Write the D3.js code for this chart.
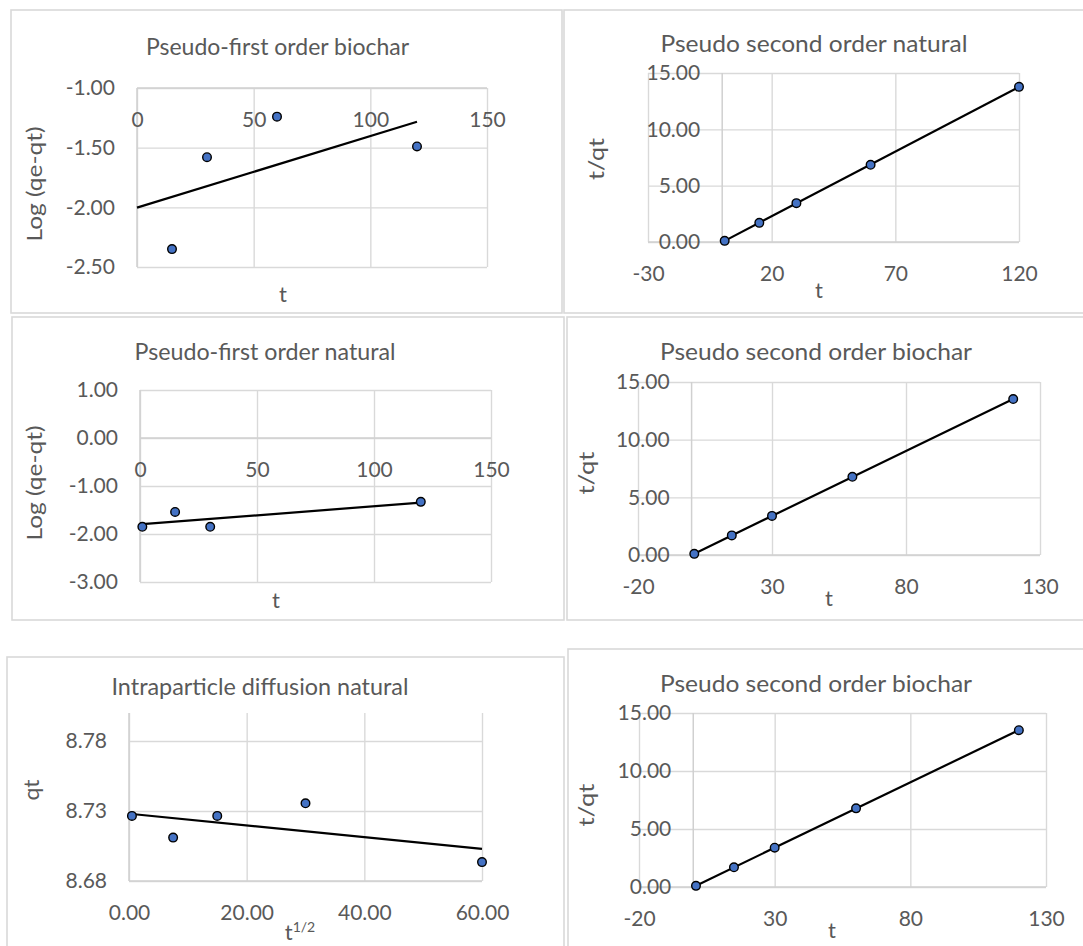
<!DOCTYPE html>
<html>
<head>
<meta charset="utf-8">
<script src="https://cdn.jsdelivr.net/npm/d3@7"></script>
<style>
body { margin: 0; background: #fff; }
svg text { font-family: Lato, "Open Sans", sans-serif; fill: #595959; }
</style>
</head>
<body>
<svg id="chart" width="1083" height="946"></svg>
<script>
// values
const tPfoBio = [15, 30, 60, 120];
const logPfoBio = [-2.35, -1.58, -1.24, -1.49];

const tPsoNat = [1, 15, 30, 60, 120];
const tqPsoNat = [0.10, 1.70, 3.45, 6.85, 13.77];

const tPfoNat = [1, 15, 30, 120];
const logPfoNat = [-1.85, -1.54, -1.85, -1.33];

const tPsoBio = [1, 15, 30, 60, 120];
const tqPsoBio = [0.10, 1.70, 3.39, 6.78, 13.52];

const tIpd = [0.5, 7.5, 15, 30, 60];
const qtIpd = [8.7265, 8.711, 8.7265, 8.7355, 8.6935];

// tick labels
const ticksT150 = [0, 50, 100, 150];
const ticksT120 = [-30, 20, 70, 120];
const ticksT130 = [-20, 30, 80, 130];
const ticksSqrt = [0, 20, 40, 60];
const ticksLogBio = [-2.5, -2, -1.5, -1];
const ticksLogNat = [-3, -2, -1, 0, 1];
const ticksTq = [0, 5, 10, 15];
const ticksQt = [8.68, 8.73, 8.78];

// x span of each linear trendline
const trendSpan = [[0, 120], [1, 120], [1, 120], [1, 120], [0.5, 60], [1, 120]];

const svg = d3.select("#chart");

const fmtInt = d => String(d);
const fmt2 = d => d.toFixed(2);

// layout of each chart box (titles are stretched in the source, so widths are given)
const panels = [
	{title: "Pseudo-first order biochar", x: tPfoBio, y: logPfoBio,
	 frame: [11, 10, 562, 313], plot: [137, 88, 487, 267],
	 xDom: [0, 150], xTicks: ticksT150, xFmt: fmtInt,
	 yDom: [-2.5, -1], yTicks: ticksLogBio, xAxisAt: -1, yAxisAt: 0,
	 titleAt: [277.5, 55, 263], yLab: "Log (qe-qt)", yLabAt: [41.5, 184, 115], xLabAt: [283, 302]},
	{title: "Pseudo second order natural", x: tPsoNat, y: tqPsoNat,
	 frame: [564, 10, 1095, 313], plot: [648, 73, 1019, 242],
	 xDom: [-30, 120], xTicks: ticksT120, xFmt: fmtInt,
	 yDom: [0, 15], yTicks: ticksTq, xAxisAt: 0, yAxisAt: 0,
	 titleAt: [814, 52, 307], yLab: "t/qt", yLabAt: [604, 159, 42], xLabAt: [819, 298]},
	{title: "Pseudo-first order natural", x: tPfoNat, y: logPfoNat,
	 frame: [12, 317, 564, 620], plot: [140, 390, 491, 582],
	 xDom: [0, 150], xTicks: ticksT150, xFmt: fmtInt,
	 yDom: [-3, 1], yTicks: ticksLogNat, xAxisAt: 0, yAxisAt: 0,
	 titleAt: [265, 360, 261], yLab: "Log (qe-qt)", yLabAt: [41.5, 483, 115], xLabAt: [276, 608]},
	{title: "Pseudo second order biochar", x: tPsoBio, y: tqPsoBio,
	 frame: [567, 317, 1095, 620], plot: [638, 382, 1040, 555],
	 xDom: [-20, 130], xTicks: ticksT130, xFmt: fmtInt,
	 yDom: [0, 15], yTicks: ticksTq, xAxisAt: 0, yAxisAt: 0,
	 titleAt: [816, 360, 312], yLab: "t/qt", yLabAt: [594, 473, 43], xLabAt: [829, 606]},
	{title: "Intraparticle diffusion natural", x: tIpd, y: qtIpd,
	 frame: [7, 657, 564, 960], plot: [129, 713, 482, 881],
	 xDom: [0, 60], xTicks: ticksSqrt, xFmt: fmt2,
	 yDom: [8.68, 8.80], yTicks: ticksQt, xAxisAt: 8.68, yAxisAt: 0,
	 titleAt: [260, 695, 297], yLab: "qt", yLabAt: [39, 790, 21], xLabAt: [300, 940], sup: true},
	{title: "Pseudo second order biochar", x: tPsoBio, y: tqPsoBio,
	 frame: [568, 649, 1095, 960], plot: [639, 713, 1046, 887],
	 xDom: [-20, 130], xTicks: ticksT130, xFmt: fmtInt,
	 yDom: [0, 15], yTicks: ticksTq, xAxisAt: 0, yAxisAt: 0,
	 titleAt: [816, 692, 312], yLab: "t/qt", yLabAt: [594, 805, 43], xLabAt: [832, 938]}
];

function fit(xs, ys) {
	const mx = d3.mean(xs), my = d3.mean(ys);
	let sxy = 0, sxx = 0;
	for (let i = 0; i < xs.length; i++) {
		sxy += (xs[i] - mx) * (ys[i] - my);
		sxx += (xs[i] - mx) * (xs[i] - mx);
	}
	const b = sxy / sxx;
	return {b: b, a: my - b * mx};
}

panels.forEach(function(p, k) {
	const g = svg.append("g");
	const [fx0, fy0, fx1, fy1] = p.frame;
	const [px0, py0, px1, py1] = p.plot;

	g.append("rect")
		.attr("x", fx0).attr("y", fy0)
		.attr("width", fx1 - fx0).attr("height", fy1 - fy0)
		.attr("fill", "#fff").attr("stroke", "#d9d9d9").attr("stroke-width", 1.6);

	const x = d3.scaleLinear().domain(p.xDom).range([px0, px1]);
	const y = d3.scaleLinear().domain(p.yDom).range([py1, py0]);

	// gridlines
	g.append("g")
		.attr("transform", `translate(0,${py1})`)
		.call(d3.axisBottom(x).tickValues(p.xTicks).tickSize(-(py1 - py0)).tickFormat(""))
		.call(s => s.select(".domain").remove())
		.call(s => s.selectAll("line").attr("stroke", "#d9d9d9").attr("stroke-width", 1.4));
	g.append("g")
		.attr("transform", `translate(${px0},0)`)
		.call(d3.axisLeft(y).tickValues(p.yTicks).tickSize(-(px1 - px0)).tickFormat(""))
		.call(s => s.select(".domain").remove())
		.call(s => s.selectAll("line").attr("stroke", "#d9d9d9").attr("stroke-width", 1.4));

	// axis lines
	g.append("line")
		.attr("x1", px0).attr("x2", px1)
		.attr("y1", y(p.xAxisAt)).attr("y2", y(p.xAxisAt))
		.attr("stroke", "#d0d0d0").attr("stroke-width", 1.5);
	g.append("line")
		.attr("x1", x(p.yAxisAt)).attr("x2", x(p.yAxisAt))
		.attr("y1", py0).attr("y2", py1)
		.attr("stroke", "#d0d0d0").attr("stroke-width", 1.5);

	// tick labels
	g.append("g")
		.attr("transform", `translate(0,${y(p.xAxisAt)})`)
		.call(d3.axisBottom(x).tickValues(p.xTicks).tickFormat(p.xFmt).tickSize(0).tickPadding(24))
		.call(s => s.select(".domain").remove())
		.call(s => s.selectAll("text").attr("font-size", 21).attr("font-family", null).attr("fill", null));
	g.append("g")
		.attr("transform", `translate(${x(p.yAxisAt)},0)`)
		.call(d3.axisLeft(y).tickValues(p.yTicks).tickFormat(fmt2).tickSize(0).tickPadding(22))
		.call(s => s.select(".domain").remove())
		.call(s => s.selectAll("text").attr("font-size", 21).attr("font-family", null).attr("fill", null));

	// trendline
	const f = fit(p.x, p.y);
	const span = trendSpan[k];
	g.append("line")
		.attr("x1", x(span[0])).attr("y1", y(f.a + f.b * span[0]))
		.attr("x2", x(span[1])).attr("y2", y(f.a + f.b * span[1]))
		.attr("stroke", "#000").attr("stroke-width", 2.2);

	// points
	g.selectAll("circle")
		.data(d3.zip(p.x, p.y))
		.join("circle")
		.attr("cx", d => x(d[0])).attr("cy", d => y(d[1]))
		.attr("r", 4.3)
		.attr("fill", "#4472c4").attr("stroke", "#000").attr("stroke-width", 1.4);

	// titles
	g.append("text")
		.attr("x", p.titleAt[0]).attr("y", p.titleAt[1])
		.attr("text-anchor", "middle").attr("font-size", 23)
		.attr("textLength", p.titleAt[2]).attr("lengthAdjust", "spacingAndGlyphs")
		.text(p.title);
	g.append("text")
		.attr("transform", `translate(${p.yLabAt[0]},${p.yLabAt[1]}) rotate(-90)`)
		.attr("text-anchor", "middle").attr("font-size", 21)
		.attr("textLength", p.yLabAt[2]).attr("lengthAdjust", "spacingAndGlyphs")
		.text(p.yLab);
	const xl = g.append("text")
		.attr("x", p.xLabAt[0]).attr("y", p.xLabAt[1])
		.attr("text-anchor", "middle").attr("font-size", 22)
		.text("t");
	if (p.sup) {
		xl.append("tspan").attr("dy", -8).attr("font-size", 14).text("1/2");
	}
});
</script>
</body>
</html>
